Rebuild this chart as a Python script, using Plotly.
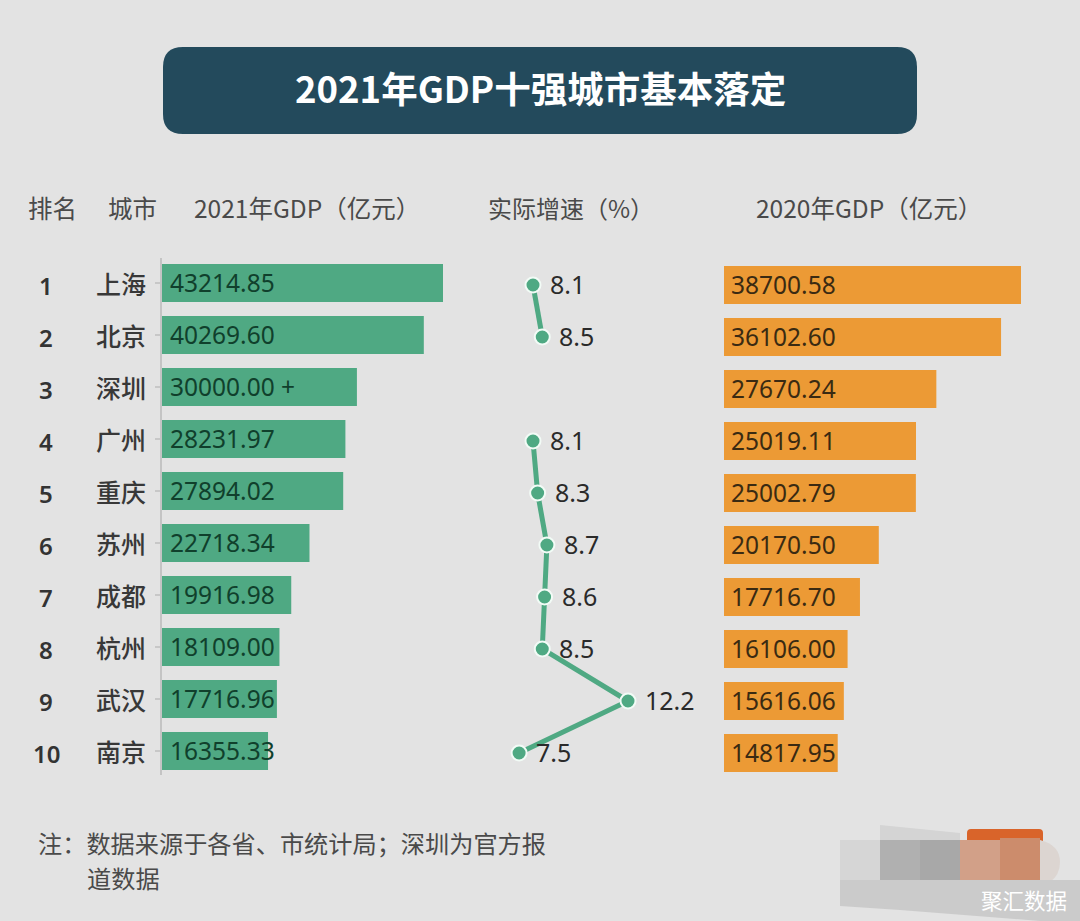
import plotly.graph_objects as go

ranks = ["1", "2", "3", "4", "5", "6", "7", "8", "9", "10"]
cities = ["上海", "北京", "深圳", "广州", "重庆", "苏州", "成都", "杭州", "武汉", "南京"]
gdp2021 = [43214.85, 40269.60, 30000.00, 28231.97, 27894.02, 22718.34, 19916.98, 18109.00, 17716.96, 16355.33]
gdp2021_labels = ["43214.85", "40269.60", "30000.00 +", "28231.97", "27894.02", "22718.34", "19916.98", "18109.00", "17716.96", "16355.33"]
growth = [8.1, 8.5, None, 8.1, 8.3, 8.7, 8.6, 8.5, 12.2, 7.5]
gdp2020 = [38700.58, 36102.60, 27670.24, 25019.11, 25002.79, 20170.50, 17716.70, 16106.00, 15616.06, 14817.95]
gdp2020_labels = ["38700.58", "36102.60", "27670.24", "25019.11", "25002.79", "20170.50", "17716.70", "16106.00", "15616.06", "14817.95"]

W, H = 1080, 921
FONT = "Noto Sans CJK SC"
GREEN = "#4fa983"
ORANGE = "#ec9a35"


def xdom(a, b):
    return [a / W, b / W]


def cat_range(first_px, top_px, bottom_px, step=52):
    return [(bottom_px - first_px) / step, (top_px - first_px) / step]


fig = go.Figure()

fig.add_trace(go.Bar(
    x=gdp2021, y=cities, orientation="h", xaxis="x", yaxis="y",
    marker=dict(color=GREEN, line=dict(width=0)), width=38 / 52,
    showlegend=False,
))
fig.add_trace(go.Scatter(
    x=growth, y=cities, xaxis="x2", yaxis="y2", mode="lines+markers",
    line=dict(color=GREEN, width=5),
    marker=dict(color=GREEN, size=15, line=dict(color="#f2fbf6", width=2)),
    connectgaps=False, cliponaxis=False, showlegend=False,
))
fig.add_trace(go.Bar(
    x=gdp2020, y=cities, orientation="h", xaxis="x3", yaxis="y2",
    marker=dict(color=ORANGE, line=dict(width=0)), width=38 / 52,
    showlegend=False,
))

hidden = dict(visible=False, fixedrange=True)
top_l, bot_l = 258, 775
fig.update_layout(
    width=W, height=H, margin=dict(l=0, r=0, t=0, b=0, autoexpand=False),
    paper_bgcolor="#e3e3e3", plot_bgcolor="rgba(0,0,0,0)",
    font=dict(family=FONT, color="#444444"),
    barmode="overlay", showlegend=False,
    xaxis=dict(hidden, domain=xdom(161.5, 443), range=[0, 43214.85], anchor="y"),
    xaxis2=dict(hidden, domain=xdom(500, 650),
                range=[8.1 - 33 / 23.17, 8.1 + 117 / 23.17], anchor="y2"),
    xaxis3=dict(hidden, domain=xdom(724, 1021), range=[0, 38700.58], anchor="y2"),
    yaxis=dict(
        domain=[1 - bot_l / H, 1 - top_l / H], range=cat_range(283, top_l, bot_l),
        type="category", categoryorder="array", categoryarray=cities,
        anchor="x", showgrid=False, zeroline=False, fixedrange=True,
        showline=True, linecolor="#c4c4c4", linewidth=1.5,
        ticks="outside", ticklen=5, tickcolor="#c8c8c8", tickwidth=1.5,
        showticklabels=False,
    ),
    yaxis2=dict(
        hidden, domain=[0, 1], range=cat_range(285, 0, H),
        type="category", categoryorder="array", categoryarray=cities, anchor="x2",
    ),
)


def rounded(x0, x1, y0, y1, r):
    return (f"M {x0 + r} {y0} L {x1 - r} {y0} Q {x1} {y0} {x1} {y0 + r} "
            f"L {x1} {y1 - r} Q {x1} {y1} {x1 - r} {y1} L {x0 + r} {y1} "
            f"Q {x0} {y1} {x0} {y1 - r} L {x0} {y0 + r} Q {x0} {y0} {x0 + r} {y0} Z")


def px_path(path):
    # convert a pixel-space path (y down) into paper coordinates
    out, is_x = [], True
    for tok in path.split():
        if tok.isalpha():
            out.append(tok)
            is_x = True
        else:
            v = float(tok)
            out.append(str(v / W if is_x else 1 - v / H))
            is_x = not is_x
    return " ".join(out)


def patch(path, color):
    fig.add_shape(type="path", xref="paper", yref="paper", layer="below",
                  line_width=0, fillcolor=color, path=px_path(path))


patch(rounded(163, 917, 47, 134, 20), "#234a5c")


def note(text, x, y, size, color="#4a4a4a", anchor="center", weight=None, family=FONT):
    fig.add_annotation(
        text=text, xref="paper", yref="paper", x=x / W, y=1 - y / H,
        xanchor=anchor, yanchor="middle", showarrow=False,
        font=dict(size=size, color=color, family=family, weight=weight),
    )


note("2021年GDP十强城市基本落定", 540, 87, 36.5, "#ffffff", weight=700)
note("排名", 52, 207, 24.5)
note("城市", 132, 207, 24.5)
note("2021年GDP（亿元）", 307, 207, 24.5)
note("实际增速（%）", 570.5, 207, 24)
note("2020年GDP（亿元）", 869, 207, 24.5)
note("注：数据来源于各省、市统计局；深圳为官方报", 36, 842, 24.2, anchor="left")
note("道数据", 85, 877, 24.2, anchor="left")


def label(text, xref, yref, x, y, xshift, size, color, anchor="left", weight=None, family="Noto Sans", yshift=0):
    fig.add_annotation(
        text=text, xref=xref, yref=yref, x=x, y=y, xshift=xshift, yshift=yshift,
        xanchor=anchor, yanchor="middle", showarrow=False,
        font=dict(family=family, size=size, color=color, weight=weight),
    )


for i, city in enumerate(cities):
    label(ranks[i], "paper", "y2", 46 / W, city, 0, 24, "#333333", "center", 600)
    label(city, "paper", "y2", 148 / W, city, 0, 25, "#383838", "right", 500, FONT, yshift=2)
    label(gdp2021_labels[i], "x", "y", 0, city, 6, 24.5, "#10402c", yshift=1)
    label(gdp2020_labels[i], "x3", "y2", 0, city, 5, 24.5, "#3a2a12", yshift=1)
    if growth[i] is not None:
        label(str(growth[i]), "x2", "y2", growth[i], city, 15, 25, "#2a2a2a", yshift=1)

# Blurred watermark patch
patch("M 967 842 L 967 833 Q 967 829 971 829 L 1039 829 Q 1043 829 1043 833 L 1043 842 Z", "#d9642a")
patch("M 880 825 L 960 833 L 960 840 L 880 840 Z", "#d4d4d4")
patch("M 840 840 L 880 840 L 880 880 L 840 880 Z", "#d6d6d6")
patch("M 880 840 L 920 840 L 920 880 L 880 880 Z", "#b0b0b0")
patch("M 920 840 L 960 840 L 960 880 L 920 880 Z", "#a8a8a8")
patch("M 960 840 L 1000 840 L 1000 880 L 960 880 Z", "#d2a088")
patch("M 1000 838 L 1040 838 L 1040 880 L 1000 880 Z", "#cc8c6c")
patch("M 1040 840 Q 1060 845 1060 862 Q 1060 875 1050 882 L 1040 882 Z", "#dcd5d1")
patch("M 840 880 L 1080 880 L 1080 921 L 1040 921 L 900 910 L 840 906 Z", "#cbcbcb")
note("聚汇数据", 1024, 899, 21.5, "#ffffff")

fig.write_html("out.html", post_script="document.body.style.margin='0';",
               config=dict(displayModeBar=False))
